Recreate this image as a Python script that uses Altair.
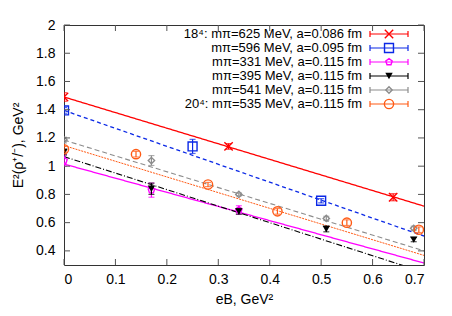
import altair as alt
import pandas as pd

# ---------------- data ----------------
series_labels = [
    "18⁴: mπ=625 MeV, a=0.086 fm",
    "mπ=596 MeV, a=0.095 fm",
    "mπ=331 MeV, a=0.115 fm",
    "mπ=395 MeV, a=0.115 fm",
    "mπ=541 MeV, a=0.115 fm",
    "20⁴: mπ=535 MeV, a=0.115 fm",
]
colors = ["#ff0000", "#0a28e6", "#ff00ff", "#000000", "#8c8c8c", "#ff5a14"]

xs = [
    [0.0, 0.32, 0.64],
    [0.0, 0.25, 0.50],
    [0.0, 0.17, 0.34],
    [0.0, 0.17, 0.34, 0.51, 0.68],
    [0.0, 0.17, 0.34, 0.51, 0.68],
    [0.0, 0.14, 0.28, 0.415, 0.55, 0.69],
]
ys = [
    [1.49, 1.14, 0.78],
    [1.395, 1.14, 0.755],
    [1.04, 0.83, 0.69],
    [1.10, 0.84, 0.68, 0.555, 0.48],
    [1.185, 1.04, 0.80, 0.63, 0.56],
    [1.12, 1.085, 0.87, 0.68, 0.60, 0.55],
]
errs = [
    [0.03, 0.02, 0.025],
    [0.02, 0.05, 0.015],
    [0.04, 0.05, 0.03],
    [0.02, 0.04, 0.02, 0.02, 0.015],
    [0.02, 0.035, 0.01, 0.015, 0.015],
    [0.02, 0.02, 0.015, 0.02, 0.02, 0.02],
]
# fit lines: value at eB=0 and at eB=0.7
fit_start = [1.49, 1.395, 1.015, 1.068, 1.185, 1.146]
fit_end = [0.717, 0.505, 0.314, 0.249, 0.40, 0.368]

x_ticks = [0, 0.1, 0.2, 0.3, 0.4, 0.5, 0.6, 0.7]
y_ticks = [0.4, 0.6, 0.8, 1.0, 1.2, 1.4, 1.6, 1.8, 2.0]

# ---------------- styles ----------------
W, H = 360, 240
FONT = "Liberation Sans"
FS = 14
LFS = 13
shapes = [
    "M-1,-1L1,1M-1,1L1,-1",
    "square",
    "M0,-1L0.95,-0.31L0.59,0.81L-0.59,0.81L-0.95,-0.31Z",
    "triangle-down",
    "diamond",
    "circle",
]
sizes = [70, 80, 45, 55, 40, 85]
filled = [False, False, False, True, False, False]
dashes = [[1, 0], [4, 3], [1, 0], [6, 2, 1, 2], [5, 3], [2, 1]]
line_w = [1.3, 1.3, 1.3, 1.1, 1.1, 1.0]

xscale = alt.Scale(domain=[0, 0.7], nice=False, zero=False)
yscale = alt.Scale(domain=[0.3, 2.0], nice=False, zero=False)

xax = alt.Axis(values=x_ticks, format="~g", title="eB, GeV²", ticks=False, domain=False,
               grid=False, labelPadding=7, titlePadding=6)
yax = alt.Axis(values=y_ticks, format="~g", title="E²(ρ⁺/⁻), GeV²", ticks=False, domain=False,
               grid=False, labelPadding=9, titlePadding=10)


def X(f):
    return alt.X(f, scale=xscale, axis=xax)


def Y(f):
    return alt.Y(f, scale=yscale, axis=yax)


layers = []

# fit lines
for i in range(6):
    df = pd.DataFrame({"x": [0.0, 0.7], "y": [fit_start[i], fit_end[i]]})
    layers.append(
        alt.Chart(df).mark_line(color=colors[i], strokeDash=dashes[i], strokeWidth=line_w[i], clip=True)
        .encode(x=X("x:Q"), y=Y("y:Q"))
    )

# points with error bars
for i in range(6):
    df = pd.DataFrame({"x": xs[i], "y": ys[i], "e": errs[i]})
    df["lo"] = df["y"] - df["e"]
    df["hi"] = df["y"] + df["e"]
    base = alt.Chart(df)
    layers.append(base.mark_rule(color=colors[i], strokeWidth=1.2, clip=True)
                  .encode(x=X("x:Q"), y=Y("lo:Q"), y2="hi:Q"))
    for c in ["lo", "hi"]:
        layers.append(base.mark_tick(color=colors[i], orient="horizontal", size=6, thickness=1.2, clip=True)
                      .encode(x=X("x:Q"), y=Y(f"{c}:Q")))
    layers.append(base.mark_point(shape=shapes[i], color=colors[i], filled=filled[i], size=sizes[i],
                                  strokeWidth=1.4, opacity=1, clip=True)
                  .encode(x=X("x:Q"), y=Y("y:Q")))

# inward ticks on all four sides
tick_col = "#555555"
dfx = pd.DataFrame({"v": x_ticks})
dfy = pd.DataFrame({"v": y_ticks})
layers.append(alt.Chart(dfx).mark_rule(color=tick_col).encode(
    x=X("v:Q"), y=alt.value(H), y2=alt.value(H - 6)))
layers.append(alt.Chart(dfx).mark_rule(color=tick_col).encode(
    x=X("v:Q"), y=alt.value(0), y2=alt.value(6)))
layers.append(alt.Chart(dfy).mark_rule(color=tick_col).encode(
    y=Y("v:Q"), x=alt.value(0), x2=alt.value(6)))
layers.append(alt.Chart(dfy).mark_rule(color=tick_col).encode(
    y=Y("v:Q"), x=alt.value(W), x2=alt.value(W - 6)))

# legend
one = pd.DataFrame({"a": [0]})
lx_text = 298
lx0, lx1 = 306, 344
for i in range(6):
    yy = 9 + 14 * i
    b = alt.Chart(one)
    layers.append(b.mark_text(align="right", baseline="middle", font=FONT, fontSize=LFS, color="#000")
                  .encode(x=alt.value(lx_text), y=alt.value(yy), text=alt.value(series_labels[i])))
    layers.append(b.mark_rule(color=colors[i], strokeWidth=1.2)
                  .encode(x=alt.value(lx0), x2=alt.value(lx1), y=alt.value(yy)))
    for xe in (lx0, lx1):
        layers.append(b.mark_rule(color=colors[i], strokeWidth=1.2)
                      .encode(x=alt.value(xe), y=alt.value(yy - 3), y2=alt.value(yy + 3)))
    layers.append(b.mark_point(shape=shapes[i], color=colors[i], filled=filled[i], size=sizes[i],
                               strokeWidth=1.4, opacity=1)
                  .encode(x=alt.value((lx0 + lx1) / 2), y=alt.value(yy)))

chart = alt.layer(*layers).properties(
    width=W, height=H, padding={"left": 3, "top": 10, "right": 5, "bottom": 5}
).configure_view(
    stroke="#333333", strokeWidth=1
).configure_axis(
    labelFont=FONT, titleFont=FONT, labelFontSize=FS, titleFontSize=FS,
    labelColor="#000", titleColor="#000", titleFontWeight="normal"
)

chart.save("out.html", embed_options={"renderer": "svg", "actions": False})
